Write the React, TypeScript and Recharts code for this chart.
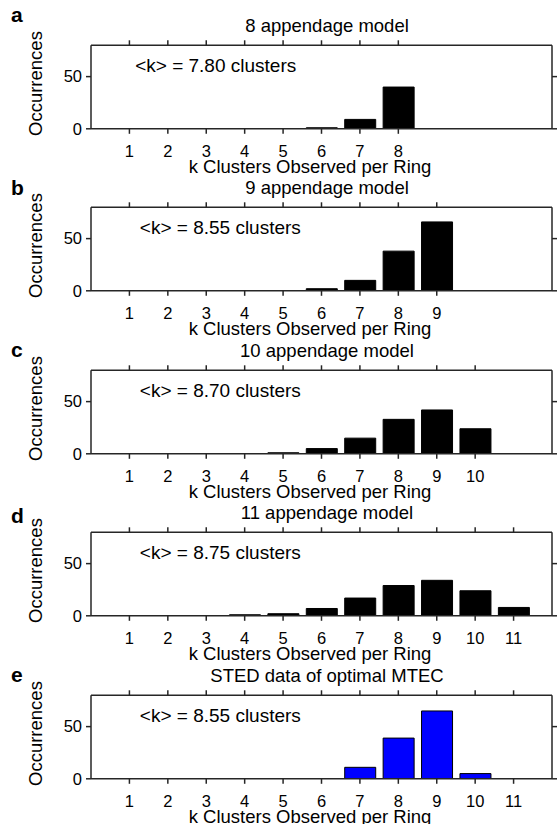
import React from "react";
import { BarChart, Bar, XAxis, YAxis, ReferenceDot } from "recharts";

// k = clusters observed per ring
const ringsA = [1, 2, 3, 4, 5, 6, 7, 8];
const ringsB = [1, 2, 3, 4, 5, 6, 7, 8, 9];
const ringsC = [1, 2, 3, 4, 5, 6, 7, 8, 9, 10];
const ringsD = [1, 2, 3, 4, 5, 6, 7, 8, 9, 10, 11];
const ringsE = [1, 2, 3, 4, 5, 6, 7, 8, 9, 10, 11];

// occurrences per k
const countsA = [0, 0, 0, 0, 0, 1, 9, 40];
const countsB = [0, 0, 0, 0, 0, 2, 10, 38, 66];
const countsC = [0, 0, 0, 0, 1, 5, 15, 33, 42, 24];
const countsD = [0, 0, 0, 1, 2, 7, 17, 29, 34, 24, 8];
const countsE = [0, 0, 0, 0, 0, 0, 11, 39, 65, 5, 0];

const yTicks = [0, 50];
const xDomain = [0, 12];
const yDomain = [0, 80];

const panels = [
  { letter: "a", title: "8 appendage model", note: "<k> = 7.80 clusters", rings: ringsA, counts: countsA, color: "#000000", noteX: 1.02 },
  { letter: "b", title: "9 appendage model", note: "<k> = 8.55 clusters", rings: ringsB, counts: countsB, color: "#000000", noteX: 1.14 },
  { letter: "c", title: "10 appendage model", note: "<k> = 8.70 clusters", rings: ringsC, counts: countsC, color: "#000000", noteX: 1.14 },
  { letter: "d", title: "11 appendage model", note: "<k> = 8.75 clusters", rings: ringsD, counts: countsD, color: "#000000", noteX: 1.14 },
  { letter: "e", title: "STED data of optimal MTEC", note: "<k> = 8.55 clusters", rings: ringsE, counts: countsE, color: "#0000ff", noteX: 1.14 },
];

const FONT = '"Liberation Sans", Arial, sans-serif';
const AXIS = "#262626";
const STEP = 162.4;
const letterBaselines = [21.7, 195, 356.7, 523.3, 681.7];
const lineStyle = { stroke: AXIS, strokeWidth: 1.5 };

// tick mark length and gap to label, used by the custom tick renderers
const TS = 5;
const TM_X = 11;
const TM_Y = 4;

// ticks drawn by hand (line + label) so the marks always show
const BottomTick = (props: any) => {
  const { x, y, payload } = props;
  return (
    <g>
      <line x1={x} x2={x} y1={y - TM_X - TS} y2={y - TM_X} stroke={AXIS} strokeWidth={1.5} />
      <text x={x} y={y} dy="0.71em" textAnchor="middle" fontSize={16.5} fill="#000">
        {payload.value}
      </text>
    </g>
  );
};

const TopTick = (props: any) => {
  const { x, y } = props;
  return <line x1={x} x2={x} y1={y + TM_X} y2={y + TM_X + TS} stroke={AXIS} strokeWidth={1.5} />;
};

const LeftTick = (props: any) => {
  const { x, y, payload } = props;
  return (
    <g>
      <line x1={x + TM_Y} x2={x + TM_Y + TS} y1={y} y2={y} stroke={AXIS} strokeWidth={1.5} />
      <text x={x} y={y} dy="0.355em" textAnchor="end" fontSize={16.5} fill="#000">
        {payload.value}
      </text>
    </g>
  );
};

const RightTick = (props: any) => {
  const { x, y } = props;
  return <line x1={x - TM_Y - TS} x2={x - TM_Y} y1={y} y2={y} stroke={AXIS} strokeWidth={1.5} />;
};

const titleLabel = (text: string) => (props: any) => {
  const vb = props.viewBox;
  return (
    <text x={vb.x + vb.width / 2 + 5.5} y={vb.y + vb.height - 13} textAnchor="middle" fontSize={18.5} fill="#000">
      {text}
    </text>
  );
};

const xLabel = (props: any) => {
  const vb = props.viewBox;
  return (
    <text x={vb.x + vb.width / 2 - 11.5} y={vb.y + 44.5} textAnchor="middle" fontSize={18.5} fill="#000">
      k Clusters Observed per Ring
    </text>
  );
};

const yLabel = (props: any) => {
  const vb = props.viewBox;
  const cx = 42.5;
  const cy = vb.y + vb.height / 2 - 3.5;
  return (
    <text x={cx} y={cy} transform={`rotate(-90, ${cx}, ${cy})`} textAnchor="middle" fontSize={18.5} fill="#000">
      Occurrences
    </text>
  );
};

function Panel({ p, top }: { p: (typeof panels)[number]; top: number }) {
  const data = p.rings.map((k, i) => ({ k, count: p.counts[i] }));
  return (
    <div style={{ position: "absolute", left: 0, top }}>
      <BarChart width={557} height={179} data={data} margin={{ top: 5, right: 4, bottom: 0, left: 31 }}>
        <XAxis
          xAxisId="top"
          orientation="top"
          type="number"
          dataKey="k"
          domain={xDomain}
          allowDataOverflow
          ticks={p.rings}
          interval={0}
          tickSize={TS}
          tickMargin={TM_X}
          height={40.3}
          axisLine={lineStyle}
          tickLine={false}
          tick={TopTick}
          label={titleLabel(p.title)}
        />
        <XAxis
          type="number"
          dataKey="k"
          domain={xDomain}
          allowDataOverflow
          ticks={p.rings}
          interval={0}
          tickSize={TS}
          tickMargin={TM_X}
          height={50.2}
          axisLine={lineStyle}
          tickLine={false}
          tick={BottomTick}
          label={xLabel}
        />
        <YAxis
          type="number"
          domain={yDomain}
          allowDataOverflow
          ticks={yTicks}
          width={60}
          tickSize={TS}
          tickMargin={TM_Y}
          axisLine={lineStyle}
          tickLine={false}
          tick={LeftTick}
          label={yLabel}
        />
        <YAxis
          yAxisId="right"
          orientation="right"
          type="number"
          domain={yDomain}
          allowDataOverflow
          ticks={yTicks}
          width={1}
          tickSize={TS}
          tickMargin={TM_Y}
          axisLine={lineStyle}
          tickLine={false}
          tick={RightTick}
        />
        <Bar dataKey="count" fill={p.color} stroke="#000" strokeWidth={1} barSize={31} isAnimationActive={false} />
        <ReferenceDot
          x={p.noteX}
          y={61}
          r={0}
          fill="none"
          stroke="none"
          label={{ value: p.note, position: "right", offset: 5, fontSize: 19, fill: "#000" }}
        />
      </BarChart>
    </div>
  );
}

export default function App() {
  return (
    <div
      style={{
        position: "absolute",
        left: 0,
        top: 0,
        width: 557,
        height: 824,
        overflow: "hidden",
        background: "#fff",
        fontFamily: FONT,
      }}
    >
      {panels.map((p, i) => (
        <Panel key={p.letter} p={p} top={STEP * i} />
      ))}
      <svg width={557} height={824} style={{ position: "absolute", left: 0, top: 0, pointerEvents: "none" }}>
        {panels.map((p, i) => (
          <text key={p.letter} x={11} y={letterBaselines[i]} fontSize={21} fontWeight="bold" fill="#000" fontFamily={FONT}>
            {p.letter}
          </text>
        ))}
      </svg>
    </div>
  );
}
